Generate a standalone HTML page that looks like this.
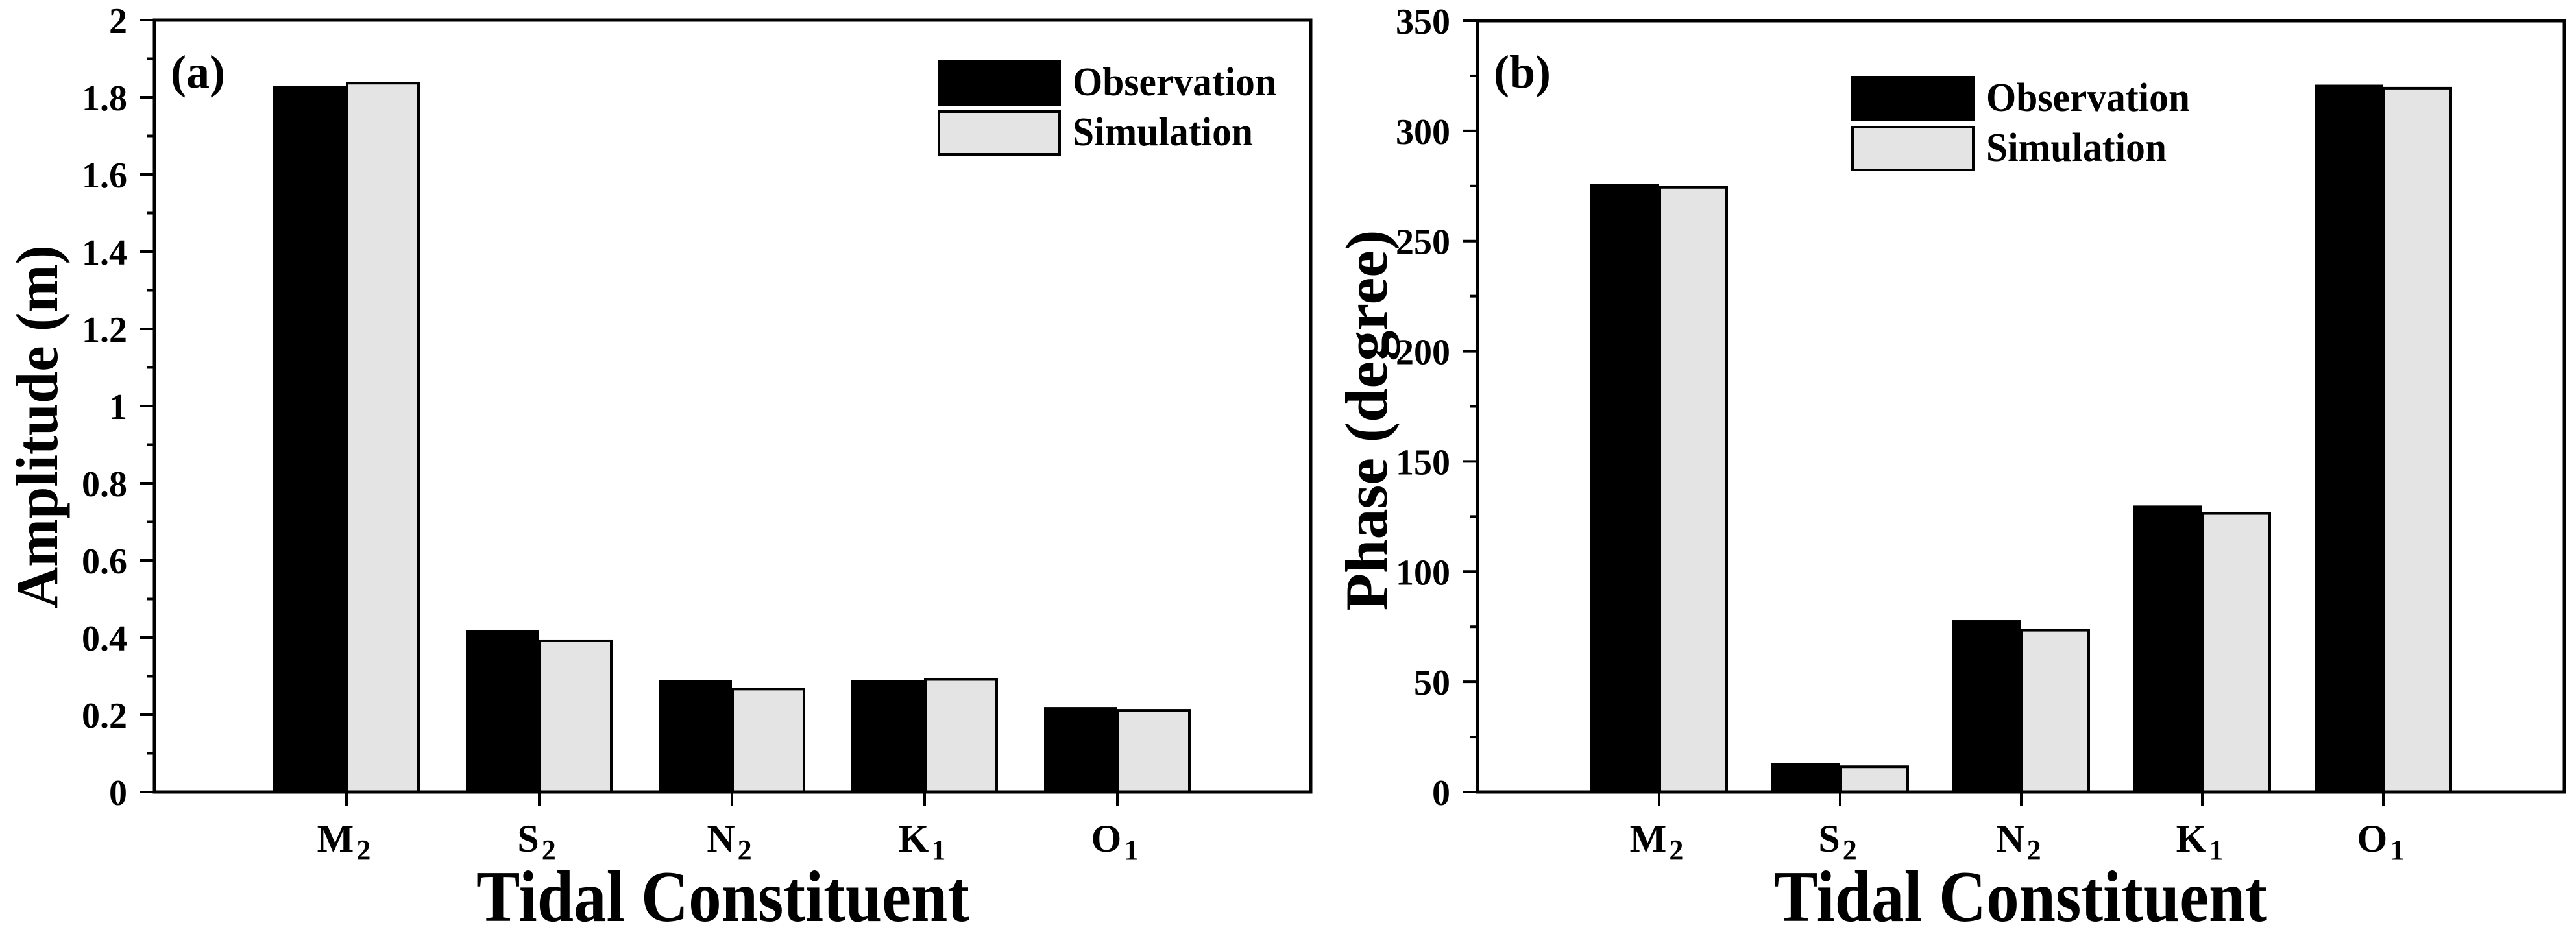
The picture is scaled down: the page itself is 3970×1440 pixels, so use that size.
<!DOCTYPE html>
<html><head><meta charset="utf-8"><style>
html,body{margin:0;padding:0;background:#fff;width:3970px;height:1440px;overflow:hidden}
svg text{font-family:"Liberation Serif",serif;font-weight:bold;fill:#000}
</style></head><body>
<svg id="chart" width="3970" height="1440" viewBox="0 0 3970 1440" xmlns="http://www.w3.org/2000/svg"></svg>
<script>
const categories = ["M", "S", "N", "K", "O"];
const subscripts = ["2", "2", "2", "1", "1"];
const ampObs = [1.83, 0.42, 0.29, 0.29, 0.22];
const ampSim = [1.84, 0.395, 0.27, 0.295, 0.215];
const phaseObs = [276, 13, 78, 130, 321];
const phaseSim = [275, 12, 74, 127, 320];
const ampTicks = ["0", "0.2", "0.4", "0.6", "0.8", "1", "1.2", "1.4", "1.6", "1.8", "2"];
const phaseTicks = ["0", "50", "100", "150", "200", "250", "300", "350"];

const NS = "http://www.w3.org/2000/svg";
const svg = document.getElementById("chart");
function mk(tag, attrs, parent) {
  const e = document.createElementNS(NS, tag);
  for (const k in attrs) e.setAttribute(k, attrs[k]);
  (parent || svg).appendChild(e);
  return e;
}

function panel(cfg) {
  const g = mk("g", {});
  
  
  const yS = v => cfg.bottom - (v - cfg.ymin) / (cfg.ymax - cfg.ymin) * (cfg.bottom - cfg.top);
  const xS = i => cfg.x0 + i * cfg.step;
  // bars
  for (let i = 0; i < categories.length; i++) {
    const cx = xS(i);
    const o = mk("rect", {x: cx - cfg.bw, y: yS(cfg.obs[i]), width: cfg.bw, height: cfg.bottom - yS(cfg.obs[i]), fill: "#000"}, g);
    
    
    const s = mk("rect", {x: cx + 1, y: yS(cfg.sim[i]) + 2, width: cfg.bw - 3, height: cfg.bottom - yS(cfg.sim[i]) - 2, fill: "#e4e4e4", stroke: "#000", "stroke-width": 4}, g);
    
    
    // x tick
    mk("line", {x1: cx, x2: cx, y1: cfg.bottom, y2: cfg.bottom + 22, stroke: "#000", "stroke-width": 4}, g);
    const t = mk("text", {x: cx - 4, y: cfg.bottom + 92, "font-size": 60, "text-anchor": "middle"}, g);
    
    
    t.textContent = categories[i];
    const sub = mk("tspan", {"font-size": 44, dy: 12, dx: 4}, t);
    sub.textContent = subscripts[i];
  }
  // frame
  const fr = mk("rect", {x: cfg.left, y: cfg.top, width: cfg.right - cfg.left, height: cfg.bottom - cfg.top, fill: "none", stroke: "#000", "stroke-width": 5}, g);
  
  
  // y ticks
  for (let k = 0; k < cfg.ticks.length; k++) {
    const v = cfg.ymin + k * cfg.major;
    const y = yS(v);
    mk("line", {x1: cfg.left - 23, x2: cfg.left, y1: y, y2: y, stroke: "#000", "stroke-width": 4}, g);
    const t = mk("text", {x: cfg.left - 42, y: y + 20, "font-size": 56, "text-anchor": "end"}, g);
    
    
    t.textContent = cfg.ticks[k];
    if (k < cfg.ticks.length - 1) {
      const ym = yS(v + cfg.major / 2);
      mk("line", {x1: cfg.left - 12, x2: cfg.left, y1: ym, y2: ym, stroke: "#000", "stroke-width": 4}, g);
    }
  }
  // panel label
  const pl = mk("text", {x: cfg.left + 25, y: 135, "font-size": 72}, g);
  
  
  pl.textContent = cfg.label;
  // y title
  const yt = mk("text", {x: 0, y: 0, "font-size": 92, "text-anchor": "middle", transform: `translate(${cfg.ytx},${cfg.yty}) rotate(-90)`, textLength: cfg.ytl, lengthAdjust: "spacingAndGlyphs"}, g);
  
  
  yt.textContent = cfg.ytitle;
  // x title
  const xt = mk("text", {x: cfg.xtx, y: 1420, "font-size": 112, "text-anchor": "middle", textLength: 760, lengthAdjust: "spacingAndGlyphs"}, g);
  
  
  xt.textContent = "Tidal Constituent";
  // legend
  const lg = mk("g", {}, g);
  
  
  const lx = cfg.lx, ly = cfg.ly;
  mk("rect", {x: lx, y: ly, width: 190, height: 70, fill: "#000"}, lg);
  mk("rect", {x: lx + 2, y: ly + 79, width: 186, height: 66, fill: "#e4e4e4", stroke: "#000", "stroke-width": 4}, lg);
  const t1 = mk("text", {x: lx + 208, y: ly + 54, "font-size": 62, textLength: 314, lengthAdjust: "spacingAndGlyphs"}, lg);
  
  
  t1.textContent = "Observation";
  const t2 = mk("text", {x: lx + 208, y: ly + 131, "font-size": 62, textLength: 278, lengthAdjust: "spacingAndGlyphs"}, lg);
  
  
  t2.textContent = "Simulation";
}

panel({name: "amplitude-panel", left: 238, right: 2020, top: 31, bottom: 1221, ymin: 0, ymax: 2, major: 0.2,
  ticks: ampTicks, obs: ampObs, sim: ampSim, x0: 534, step: 297, bw: 113, label: "(a)",
  ytitle: "Amplitude (m)", ytx: 88, yty: 658, ytl: 560, xtx: 1114, lx: 1445, ly: 93});
panel({name: "phase-panel", left: 2277, right: 3952, top: 32, bottom: 1221, ymin: 0, ymax: 350, major: 50,
  ticks: phaseTicks, obs: phaseObs, sim: phaseSim, x0: 2557, step: 279, bw: 106, label: "(b)",
  ytitle: "Phase (degree)", ytx: 2137, yty: 648, ytl: 587, xtx: 3114, lx: 2853, ly: 117});
</script>
</body></html>
